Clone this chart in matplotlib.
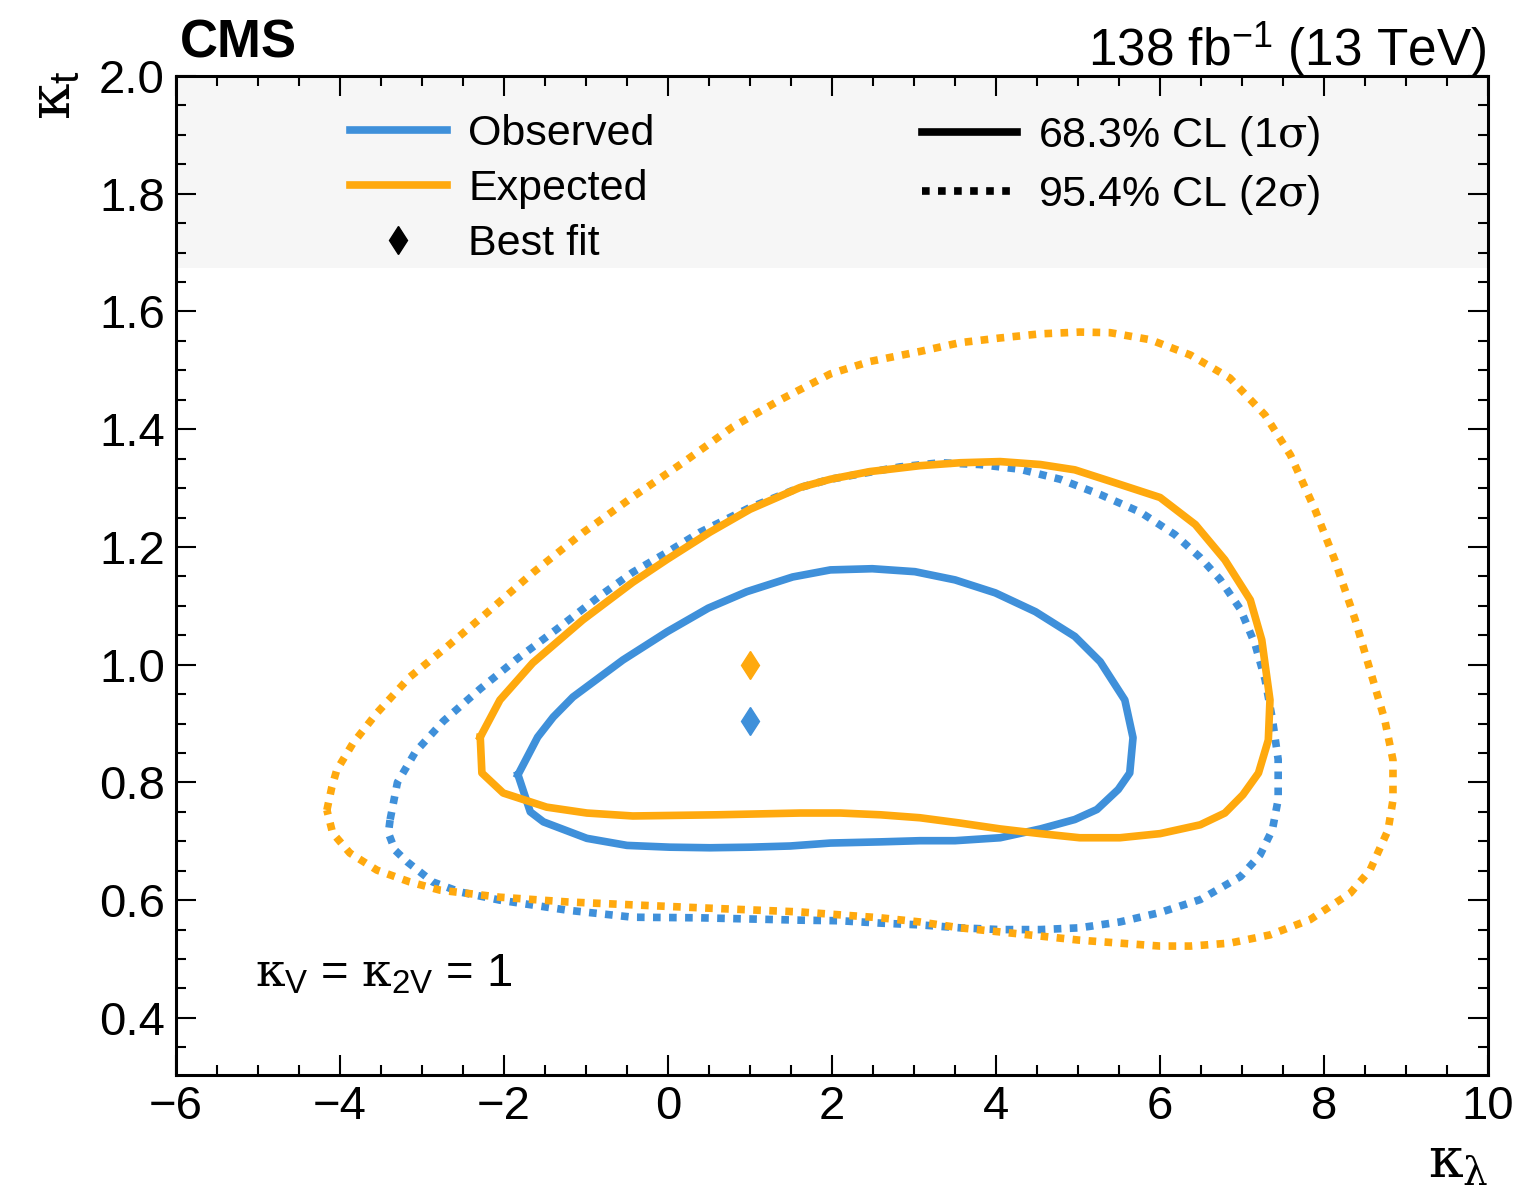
import numpy as np
import matplotlib.pyplot as plt
from matplotlib.lines import Line2D
from matplotlib.patches import Rectangle
from matplotlib.ticker import MultipleLocator

plt.rcParams['font.family'] = 'Liberation Sans'
plt.rcParams['mathtext.fontset'] = 'custom'
plt.rcParams['mathtext.rm'] = 'Liberation Sans'
plt.rcParams['mathtext.it'] = 'DejaVu Serif'
plt.rcParams['mathtext.bf'] = 'Liberation Sans:bold'

blue = '#3f90da'
orange = '#ffa90e'

# 68% CL contours (kappa_lambda, kappa_t)
obs_1s_kl = [-1.83, -1.59, -1.40, -1.16, -0.55, -0.01, 0.49, 0.96, 1.52, 1.98, 2.49, 3.01,
             3.50, 3.99, 4.48, 4.96, 5.27, 5.57, 5.67, 5.63, 5.49, 5.23, 4.96, 4.54, 4.05,
             3.50, 3.07, 2.59, 1.98, 1.49, 1.00, 0.51, 0.02, -0.50, -0.99, -1.52, -1.68]
obs_1s_kt = [0.813, 0.877, 0.911, 0.945, 1.008, 1.056, 1.096, 1.124, 1.149, 1.161, 1.163, 1.158,
             1.144, 1.122, 1.090, 1.048, 1.005, 0.940, 0.876, 0.816, 0.788, 0.754, 0.737, 0.721, 0.706,
             0.701, 0.701, 0.699, 0.697, 0.692, 0.690, 0.689, 0.690, 0.693, 0.705, 0.733, 0.750]

exp_1s_kl = [-2.29, -2.27, -2.01, -1.48, -0.99, -0.43, 0.60, 1.61, 2.10, 2.59, 3.07, 3.56,
             4.05, 4.54, 5.02, 5.51, 6.00, 6.49, 6.79, 7.01, 7.20, 7.32, 7.34, 7.24, 7.10,
             6.79, 6.43, 6.00, 5.45, 4.96, 4.54, 4.05, 3.56, 3.07, 2.46, 1.98, 1.61, 1.00,
             0.51, -0.01, -0.43, -1.04, -1.65, -2.05]
exp_1s_kt = [0.877, 0.816, 0.782, 0.758, 0.748, 0.743, 0.745, 0.748, 0.748, 0.745, 0.740, 0.731,
             0.721, 0.713, 0.706, 0.706, 0.713, 0.728, 0.748, 0.779, 0.816, 0.872, 0.940, 1.042, 1.110,
             1.178, 1.238, 1.284, 1.309, 1.331, 1.340, 1.345, 1.343, 1.338, 1.328, 1.315, 1.301, 1.264,
             1.225, 1.179, 1.140, 1.076, 1.003, 0.940]

# 95% CL contours
obs_2s_kl = [-3.39, -3.41, -3.33, -3.18, -2.87, -2.54, -2.05, -1.23, -0.43, 0.39, 1.61, 2.10,
             2.59, 3.07, 3.56, 4.05, 4.54, 5.02, 5.51, 6.00, 6.49, 6.98, 7.22, 7.37, 7.44,
             7.44, 7.37, 7.28, 7.16, 6.98, 6.73, 6.49, 6.18, 5.76, 5.27, 4.78, 4.29, 3.80,
             3.32, 2.83, 2.34, 1.98, 1.61, 1.00, 0.39, -0.01, -0.43, -0.83, -1.35, -1.84,
             -2.29, -2.74, -3.08, -3.30]
obs_2s_kt = [0.736, 0.714, 0.685, 0.665, 0.631, 0.614, 0.600, 0.583, 0.571, 0.570, 0.566, 0.565,
             0.561, 0.558, 0.553, 0.550, 0.550, 0.553, 0.563, 0.579, 0.601, 0.640, 0.677, 0.720, 0.771,
             0.839, 0.907, 0.975, 1.034, 1.094, 1.145, 1.182, 1.221, 1.259, 1.289, 1.315, 1.332, 1.340,
             1.343, 1.336, 1.324, 1.315, 1.301, 1.267, 1.225, 1.191, 1.157, 1.117, 1.061, 1.010,
             0.959, 0.904, 0.852, 0.800]

exp_2s_kl = [-4.16, -4.10, -4.04, -3.84, -3.55, -3.15, -2.70, -2.21, -1.65, -1.04, -0.43, 0.18,
             0.79, 1.37, 1.98, 2.46, 3.07, 3.56, 4.05, 4.54, 5.02, 5.39, 5.88, 6.37, 6.85,
             7.28, 7.59, 7.89, 8.13, 8.38, 8.56, 8.74, 8.84, 8.84, 8.78, 8.56, 8.32, 7.83,
             7.34, 6.85, 6.37, 6.00, 5.51, 5.02, 4.54, 4.05, 3.56, 3.07, 2.59, 2.10, 1.61,
             0.39, -0.43, -1.23, -2.05, -2.78, -3.15, -3.55, -3.88, -4.09]
exp_2s_kt = [0.753, 0.792, 0.821, 0.867, 0.918, 0.979, 1.030, 1.088, 1.156, 1.224, 1.285, 1.343,
             1.404, 1.450, 1.494, 1.515, 1.532, 1.547, 1.555, 1.562, 1.565, 1.564, 1.552, 1.526, 1.487,
             1.424, 1.356, 1.263, 1.178, 1.076, 0.991, 0.906, 0.838, 0.770, 0.719, 0.651, 0.612, 0.567,
             0.541, 0.527, 0.522, 0.522, 0.527, 0.532, 0.539, 0.546, 0.553, 0.563, 0.570, 0.575, 0.580,
             0.587, 0.592, 0.597, 0.605, 0.617, 0.631, 0.651, 0.680, 0.714]

# best-fit points
best_obs = (1.0, 0.905)
best_exp = (1.0, 1.0)


def closed(xs, ys):
    return np.append(xs, xs[0]), np.append(ys, ys[0])


dotted = (0, (1.0, 1.1))
lw = 5.5

fig = plt.figure(figsize=(15.16, 11.91), dpi=100)
ax = fig.add_axes([0.1161, 0.0974, 0.8655, 0.8388])

# shaded band behind the legend
ax.add_patch(Rectangle((0, 0.808), 1, 0.192, transform=ax.transAxes,
                       facecolor='#f6f6f6', edgecolor='none', zorder=0))

ax.plot(*closed(obs_2s_kl, obs_2s_kt), color=blue, lw=lw, ls=dotted, dash_capstyle='butt')
ax.plot(*closed(exp_2s_kl, exp_2s_kt), color=orange, lw=lw, ls=dotted, dash_capstyle='butt')
ax.plot(*closed(obs_1s_kl, obs_1s_kt), color=blue, lw=lw)
ax.plot(*closed(exp_1s_kl, exp_1s_kt), color=orange, lw=lw)

ax.plot(best_exp[0], best_exp[1], marker='d', color=orange, ms=14.5, ls='none')
ax.plot(best_obs[0], best_obs[1], marker='d', color=blue, ms=14.5, ls='none')

ax.set_xlim(-6, 10)
ax.set_ylim(0.303, 2.0)
ax.xaxis.set_major_locator(MultipleLocator(2))
ax.xaxis.set_minor_locator(MultipleLocator(0.5))
ax.yaxis.set_major_locator(MultipleLocator(0.2))
ax.yaxis.set_minor_locator(MultipleLocator(0.05))
ax.yaxis.set_major_formatter(plt.FuncFormatter(lambda v, p: f'{v:.1f}'))
ax.tick_params(which='both', direction='in', top=True, right=True, width=1.5, labelsize=34)
ax.tick_params(which='major', length=14.5)
ax.tick_params(which='minor', length=7.5)
ax.tick_params(axis='x', pad=7)
ax.tick_params(axis='y', pad=8)
for s in ax.spines.values():
    s.set_linewidth(2.2)

ax.text(1.0, -0.062, r'$\kappa_{\lambda}$', transform=ax.transAxes, ha='right', va='top', fontsize=40)
ax.text(-0.072, 1.006, r'$\kappa_{\mathregular{t}}$', transform=ax.transAxes, ha='right', va='top',
        rotation=90, fontsize=42)

ax.text(0.003, 1.019, 'CMS', transform=ax.transAxes, ha='left', va='baseline',
        fontsize=38, fontweight='bold')
ax.text(0.999, 1.010, r'138 fb$^{\mathregular{-1}}$ (13 TeV)', transform=ax.transAxes,
        ha='right', va='baseline', fontsize=37)

ax.text(0.060, 0.088, r'$\kappa_{\mathregular{V}}$ = $\kappa_{\mathregular{2V}}$ = 1',
        transform=ax.transAxes, ha='left', va='baseline', fontsize=34)

# legends
h_obs = Line2D([], [], color=blue, lw=lw)
h_exp = Line2D([], [], color=orange, lw=lw)
h_best = Line2D([], [], color='black', marker='d', ms=14.5, ls='none')
leg1 = ax.legend([h_obs, h_exp, h_best], ['Observed', 'Expected', 'Best fit'],
                 loc='upper left', bbox_to_anchor=(0.1326, 0.962), frameon=False,
                 fontsize=31, handlelength=2.25, handletextpad=0.5, labelspacing=0.35,
                 borderpad=0, borderaxespad=0)
ax.add_artist(leg1)

h_1s = Line2D([], [], color='black', lw=lw)
h_2s = Line2D([], [], color='black', lw=lw, ls=dotted, dash_capstyle='butt')
ax.legend([h_1s, h_2s], [r'68.3% CL (1$\sigma$)', r'95.4% CL (2$\sigma$)'],
          loc='upper left', bbox_to_anchor=(0.5686, 0.962), frameon=False,
          fontsize=31, handlelength=2.2, handletextpad=0.5, labelspacing=0.35,
          borderpad=0, borderaxespad=0)

fig.savefig('out.png', dpi=100, facecolor='white')
